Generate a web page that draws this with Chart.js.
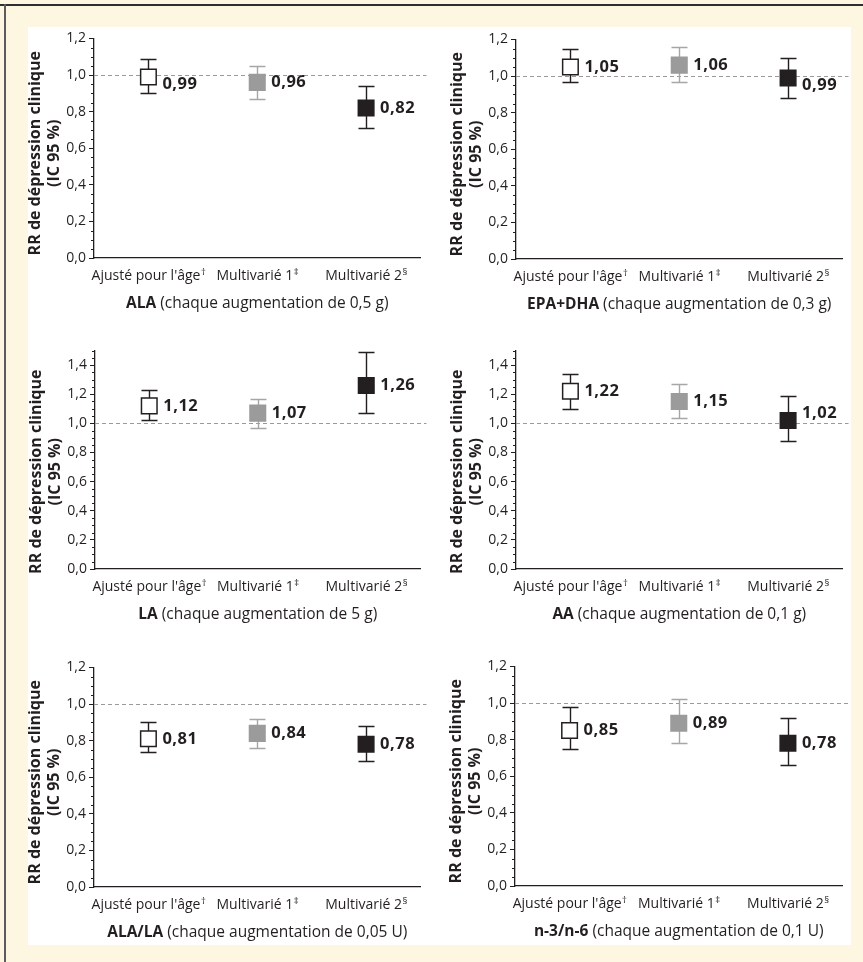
<!DOCTYPE html>
<html>
<head>
<meta charset="utf-8">
<script src="https://cdn.jsdelivr.net/npm/chart.js@4.4.0/dist/chart.umd.min.js"></script>
<style>
    html, body { margin: 0; padding: 0; }
    body { width: 863px; height: 962px; background: #fdf6e0; position: relative; overflow: hidden; }
    #topLine { position: absolute; left: 0; top: 4px; width: 863px; height: 2px; background: #2e2e2e; }
    #leftLine { position: absolute; left: 4px; top: 4px; width: 2px; height: 958px; background: #5c5c5c; }
    #panel { position: absolute; left: 28px; top: 27px; width: 823px; height: 918px; background: #fff; }
    canvas { position: absolute; }
</style>
</head>
<body>
<div id="topLine"></div>
<div id="leftLine"></div>
<div id="panel"></div>
<canvas id="ala"></canvas>
<canvas id="epa"></canvas>
<canvas id="la"></canvas>
<canvas id="aa"></canvas>
<canvas id="alaLa"></canvas>
<canvas id="n3n6"></canvas>
<script>
// models (x categories); last char is a footnote mark
const models = ["Ajusté pour l'âge†", "Multivarié 1‡", "Multivarié 2§"];

// RR with 95 % CI
const alaRR = [0.99, 0.96, 0.82];
const alaLow = [0.90, 0.87, 0.71];
const alaHigh = [1.09, 1.05, 0.94];

const epaRR = [1.05, 1.06, 0.99];
const epaLow = [0.97, 0.97, 0.88];
const epaHigh = [1.15, 1.16, 1.10];

const laRR = [1.12, 1.07, 1.26];
const laLow = [1.02, 0.97, 1.07];
const laHigh = [1.23, 1.17, 1.49];

const aaRR = [1.22, 1.15, 1.02];
const aaLow = [1.10, 1.04, 0.88];
const aaHigh = [1.34, 1.27, 1.19];

const alaLaRR = [0.81, 0.84, 0.78];
const alaLaLow = [0.74, 0.76, 0.69];
const alaLaHigh = [0.90, 0.92, 0.88];

const n3n6RR = [0.85, 0.89, 0.78];
const n3n6Low = [0.75, 0.78, 0.66];
const n3n6High = [0.98, 1.02, 0.92];

const nutrients = ["ALA", "EPA+DHA", "LA", "AA", "ALA/LA", "n-3/n-6"];
const increments = ["(chaque augmentation de 0,5 g)", "(chaque augmentation de 0,3 g)",
    "(chaque augmentation de 5 g)", "(chaque augmentation de 0,1 g)",
    "(chaque augmentation de 0,05 U)", "(chaque augmentation de 0,1 U)"];
const yTitle = ["RR de dépression clinique", "(IC 95 %)"];

const INK = '#231f20';
const GREY_FILL = '#9b9b9b';
const GREY_BAR = '#a6a6a6';
const FONT = "'Open Sans', sans-serif";

// plot area of each panel on the page
const panelLayout = [
    {id: 'ala', left: 94, right: 425, top: 38, bottom: 258, max: 1.2, rr: alaRR, low: alaLow, high: alaHigh},
    {id: 'epa', left: 516, right: 847, top: 39, bottom: 259, max: 1.2, rr: epaRR, low: epaLow, high: epaHigh},
    {id: 'la', left: 95, right: 425, top: 350, bottom: 569, max: 1.5, rr: laRR, low: laLow, high: laHigh},
    {id: 'aa', left: 516, right: 847, top: 350, bottom: 569, max: 1.5, rr: aaRR, low: aaLow, high: aaHigh},
    {id: 'alaLa', left: 94, right: 425, top: 667, bottom: 887, max: 1.2, rr: alaLaRR, low: alaLaLow, high: alaLaHigh},
    {id: 'n3n6', left: 515, right: 847, top: 666, bottom: 886, max: 1.2, rr: n3n6RR, low: n3n6Low, high: n3n6High}
];

const PAD_TOP = 12, PAD_RIGHT = 8, Y_WIDTH = 68, X_HEIGHT = 60;

function fr(v, digits) {
    return v.toFixed(digits).replace('.', ',');
}

const forestPlugin = {
    id: 'forest',
    beforeDatasetsDraw(chart, args, opts) {
        const {ctx, chartArea, scales: {x, y}} = chart;
        ctx.save();

        // reference line RR = 1
        const yRef = Math.round(y.getPixelForValue(1)) + 0.5;
        ctx.strokeStyle = '#9a9a9a';
        ctx.lineWidth = 1;
        ctx.setLineDash([4, 3]);
        ctx.beginPath();
        ctx.moveTo(chartArea.left, yRef);
        ctx.lineTo(chartArea.right + 6, yRef);
        ctx.stroke();
        ctx.setLineDash([]);

        // minor ticks every 0.05
        ctx.strokeStyle = INK;
        ctx.lineWidth = 1;
        for (let k = 0; k <= Math.round(opts.max * 20); k++) {
            if (k % 4 === 0) continue;
            const py = Math.round(y.getPixelForValue(k / 20)) + 0.5;
            ctx.beginPath();
            ctx.moveTo(chartArea.left - 3, py);
            ctx.lineTo(chartArea.left, py);
            ctx.stroke();
        }

        // confidence intervals
        opts.low.forEach(function (lo, i) {
            const px = Math.round(x.getPixelForValue(i)) + 0.5;
            const yLo = Math.round(y.getPixelForValue(lo)) + 0.5;
            const yHi = Math.round(y.getPixelForValue(opts.high[i])) + 0.5;
            ctx.strokeStyle = i === 1 ? GREY_BAR : INK;
            ctx.lineWidth = 1.4;
            ctx.beginPath();
            ctx.moveTo(px, yLo);
            ctx.lineTo(px, yHi);
            ctx.moveTo(px - 8, yLo);
            ctx.lineTo(px + 8, yLo);
            ctx.moveTo(px - 8, yHi);
            ctx.lineTo(px + 8, yHi);
            ctx.stroke();
        });
        ctx.restore();
    },
    afterDatasetsDraw(chart, args, opts) {
        const {ctx, chartArea, scales: {x, y}} = chart;
        ctx.save();

        // value labels next to the squares
        ctx.fillStyle = INK;
        ctx.font = 'bold 16.5px ' + FONT;
        ctx.letterSpacing = '0.5px';
        ctx.textAlign = 'left';
        ctx.textBaseline = 'middle';
        opts.rr.forEach(function (v, i) {
            let py = y.getPixelForValue(v);
            if (Math.abs(v - 1) < 0.03) py += v < 1 ? 7 : -7;
            ctx.fillText(fr(v, 2), x.getPixelForValue(i) + 14, py);
        });
        ctx.letterSpacing = '0px';

        // category labels with superscript marks
        ctx.textBaseline = 'alphabetic';
        models.forEach(function (label, i) {
            const base = label.slice(0, -1), mark = label.slice(-1);
            ctx.font = '14px ' + FONT;
            const wBase = ctx.measureText(base).width;
            ctx.font = '9.5px ' + FONT;
            const wMark = ctx.measureText(mark).width;
            const x0 = x.getPixelForValue(i) - (wBase + wMark) / 2;
            const by = chartArea.bottom + 22;
            ctx.font = '14px ' + FONT;
            ctx.fillText(base, x0, by);
            ctx.font = '9.5px ' + FONT;
            ctx.fillText(mark, x0 + wBase + 0.5, by - 5);
        });

        // panel title: bold nutrient + regular increment
        const bold = opts.nutrient + ' ', rest = opts.increment;
        ctx.font = 'bold 15.5px ' + FONT;
        const wBold = ctx.measureText(bold).width;
        ctx.font = '15.5px ' + FONT;
        const wRest = ctx.measureText(rest).width;
        const tx = (chartArea.left + chartArea.right) / 2 - (wBold + wRest) / 2;
        const ty = chartArea.bottom + 50;
        ctx.font = 'bold 15.5px ' + FONT;
        ctx.fillText(bold, tx, ty);
        ctx.font = '15.5px ' + FONT;
        ctx.fillText(rest, tx + wBold, ty);

        // rotated y title, two lines
        ctx.font = 'bold 16px ' + FONT;
        ctx.textAlign = 'center';
        const cy = (chartArea.top + chartArea.bottom) / 2 + opts.titleShift;
        yTitle.forEach(function (line, j) {
            ctx.save();
            ctx.translate(chartArea.left - (j === 0 ? 54 : 35), cy);
            ctx.rotate(-Math.PI / 2);
            ctx.fillText(line, 0, 0);
            ctx.restore();
        });
        ctx.restore();
    }
};

function renderPanel(layout, index) {
    const canvas = document.getElementById(layout.id);
    const w = layout.right - layout.left + Y_WIDTH + PAD_RIGHT;
    const h = layout.bottom - layout.top + PAD_TOP + X_HEIGHT;
    canvas.width = w;
    canvas.height = h;
    canvas.style.left = (layout.left - Y_WIDTH) + 'px';
    canvas.style.top = (layout.top - PAD_TOP) + 'px';

    new Chart(canvas.getContext('2d'), {
        type: 'line',
        data: {
            labels: models,
            datasets: [{
                data: layout.rr,
                showLine: false,
                pointStyle: 'rect',
                pointRadius: 11,
                pointHoverRadius: 11,
                pointBorderWidth: 1.5,
                pointBackgroundColor: ['#ffffff', GREY_FILL, INK],
                pointBorderColor: [INK, GREY_FILL, INK]
            }]
        },
        options: {
            responsive: false,
            animation: false,
            events: [],
            layout: {padding: {top: PAD_TOP, right: PAD_RIGHT, left: 0, bottom: 0}},
            plugins: {
                legend: {display: false},
                tooltip: {enabled: false},
                forest: {
                    rr: layout.rr, low: layout.low, high: layout.high, max: layout.max,
                    nutrient: nutrients[index], increment: increments[index],
                    titleShift: layout.max > 1.3 ? 12 : 5
                }
            },
            scales: {
                x: {
                    offset: true,
                    grid: {display: false},
                    border: {color: INK, width: 1.3},
                    ticks: {display: false},
                    afterFit: function (scale) { scale.height = X_HEIGHT; }
                },
                y: {
                    min: 0,
                    max: layout.max,
                    grid: {drawOnChartArea: false, drawTicks: true, tickLength: 5, tickColor: INK},
                    border: {color: INK, width: 1.3},
                    ticks: {
                        stepSize: 0.2,
                        includeBounds: false,
                        padding: 3,
                        color: INK,
                        font: {family: FONT, size: 14},
                        callback: function (v) { return fr(v, 1); }
                    },
                    afterFit: function (scale) { scale.width = Y_WIDTH; }
                }
            }
        },
        plugins: [forestPlugin]
    });
}

panelLayout.forEach(renderPanel);
</script>
</body>
</html>
